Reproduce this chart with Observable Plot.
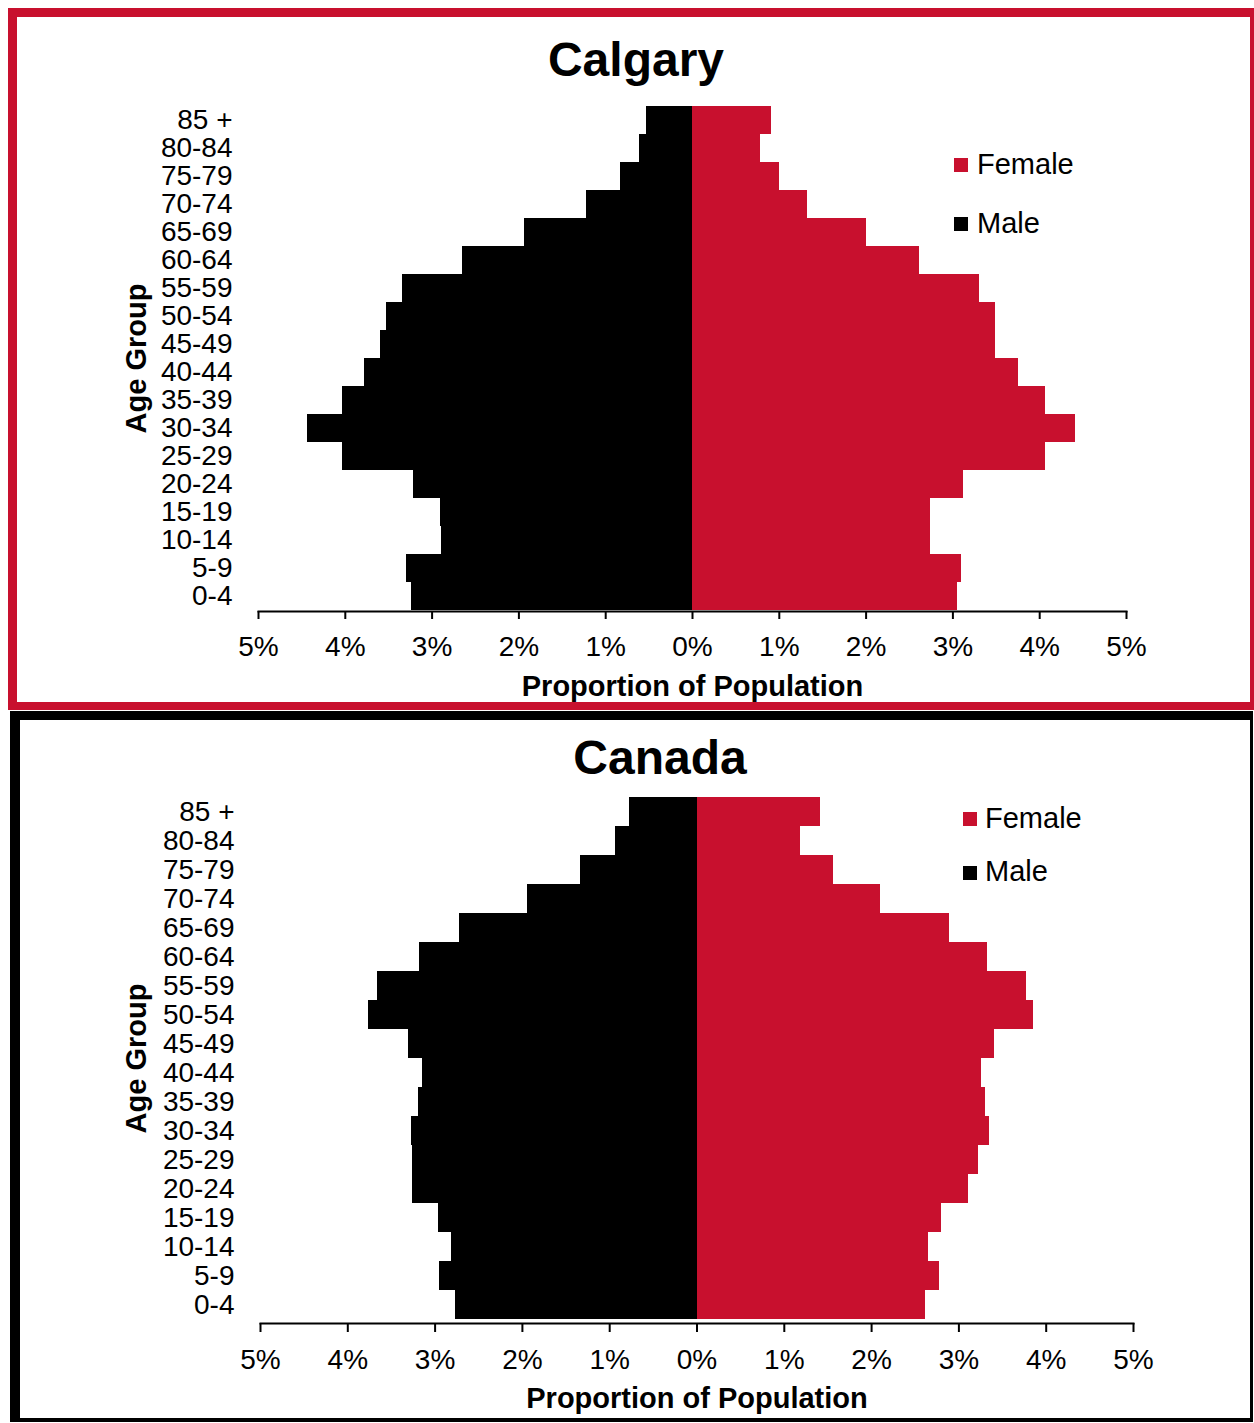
<!DOCTYPE html>
<html>
<head>
<meta charset="utf-8">
<script src="https://cdn.jsdelivr.net/npm/d3@7"></script>
<script src="https://cdn.jsdelivr.net/npm/@observablehq/plot@0.6"></script>
<style>
  html, body { margin: 0; padding: 0; background: #fff; overflow: hidden; }
  body { width: 1254px; height: 1423px; position: relative; font-family: "Liberation Sans", Arial, sans-serif; color: #000; }
  .panel { position: absolute; box-sizing: border-box; }
  #calgaryPanel { left: 8px; top: 8px; width: 1250px; height: 702px; border: 9px solid #C8102E; border-right-width: 8px; border-bottom-width: 8px; }
  #canadaPanel { left: 10px; top: 711px; width: 1243px; height: 711px; border-style: solid; border-color: #000; border-width: 9px 3px 4px 10px; }
  .chart { position: absolute; left: 0; }
  .title { position: absolute; font-weight: bold; font-size: 48px; line-height: 1; white-space: nowrap; transform: translateX(-50%); }
  .legend-sw { position: absolute; width: 14px; height: 14px; }
  .legend-tx { position: absolute; font-size: 29px; line-height: 1; white-space: nowrap; }
</style>
</head>
<body>
<div class="panel" id="calgaryPanel"></div>
<div class="panel" id="canadaPanel"></div>
<div id="calgaryChart" class="chart" style="top:0px"></div>
<div id="canadaChart" class="chart" style="top:711px"></div>
<div class="title" style="left:636px; top:36px">Calgary</div>
<div class="title" style="left:660px; top:734px">Canada</div>
<div id="legends"></div>
<script>
// ---- data ----
const ageGroups = ["85 +","80-84","75-79","70-74","65-69","60-64","55-59","50-54","45-49","40-44","35-39","30-34","25-29","20-24","15-19","10-14","5-9","0-4"];
const sexes = ["Female", "Male"];
const sexColors = ["#C8102E", "#000000"];
const xTicks = [-5, -4, -3, -2, -1, 0, 1, 2, 3, 4, 5];

const calgaryMale   = [0.53, 0.61, 0.83, 1.22, 1.94, 2.65, 3.34, 3.53, 3.60, 3.78, 4.03, 4.43, 4.03, 3.22, 2.90, 2.89, 3.30, 3.24];
const calgaryFemale = [0.91, 0.78, 1.00, 1.33, 2.01, 2.62, 3.31, 3.49, 3.49, 3.76, 4.07, 4.41, 4.07, 3.12, 2.74, 2.74, 3.10, 3.05];
const canadaMale    = [0.77, 0.93, 1.34, 1.94, 2.72, 3.18, 3.66, 3.76, 3.30, 3.15, 3.19, 3.27, 3.26, 3.26, 2.96, 2.81, 2.95, 2.77];
const canadaFemale  = [1.42, 1.19, 1.56, 2.10, 2.89, 3.33, 3.78, 3.85, 3.41, 3.26, 3.31, 3.35, 3.23, 3.11, 2.80, 2.65, 2.78, 2.62];

const xTitle = "Proportion of Population";
const yTitle = "Age Group";

function pyramid(male, female, g) {
  const rows = [];
  ageGroups.forEach((a, i) => {
    rows.push({age: a, sex: "Male", value: -male[i]});
    rows.push({age: a, sex: "Female", value: female[i]});
  });
  return Plot.plot({
    width: 1254,
    height: g.height,
    marginLeft: g.ml, marginRight: g.mr, marginTop: g.mt, marginBottom: g.mb,
    style: {background: "none", fontFamily: '"Liberation Sans", Arial, sans-serif', fontSize: "28px", color: "#000", maxWidth: "none", overflow: "visible"},
    x: {domain: [-5, 5], label: null},
    y: {domain: ageGroups, padding: 0, label: null},
    color: {domain: sexes, range: sexColors},
    marks: [
      Plot.barX(rows, {x: "value", y: "age", fill: "sex", shapeRendering: "crispEdges"}),
      Plot.axisX({ticks: xTicks, tickFormat: d => Math.abs(d) + "%", tickSize: g.ts, tickPadding: 17, strokeWidth: 2, label: null}),
      Plot.axisY({tickSize: 0, tickPadding: 26, label: null}),
      Plot.frame({anchor: "bottom", strokeWidth: 2}),
      Plot.text([xTitle], {frameAnchor: "bottom", lineAnchor: "middle", textAnchor: "middle", dy: g.xtDy, fontSize: 29, fontWeight: "bold"}),
      Plot.text([yTitle], {frameAnchor: "left", textAnchor: "middle", lineAnchor: "middle", dx: g.ytDx, rotate: -90, fontSize: 29, fontWeight: "bold"})
    ]
  });
}

document.getElementById("calgaryChart").append(
  pyramid(calgaryMale, calgaryFemale, {height: 710, ml: 258, mr: 128, mt: 105, mb: 99, ts: 8, xtDy: 75, ytDx: -122})
);
document.getElementById("canadaChart").append(
  pyramid(canadaMale, canadaFemale, {height: 712, ml: 260, mr: 121, mt: 82, mb: 100, ts: 9, xtDy: 75, ytDx: -124})
);

// legends
const legendSpots = [
  {sx: 954, tx: 977, sy: [158, 217], ty: [150, 209]},
  {sx: 963, tx: 985, sy: [812, 866], ty: [804, 857]}
];
const lg = document.getElementById("legends");
legendSpots.forEach(L => {
  sexes.forEach((s, i) => {
    const sw = document.createElement("div");
    sw.className = "legend-sw";
    sw.style.left = L.sx + "px"; sw.style.top = L.sy[i] + "px"; sw.style.background = sexColors[i];
    const tx = document.createElement("div");
    tx.className = "legend-tx";
    tx.style.left = L.tx + "px"; tx.style.top = L.ty[i] + "px";
    tx.textContent = s;
    lg.append(sw, tx);
  });
});
</script>
</body>
</html>
